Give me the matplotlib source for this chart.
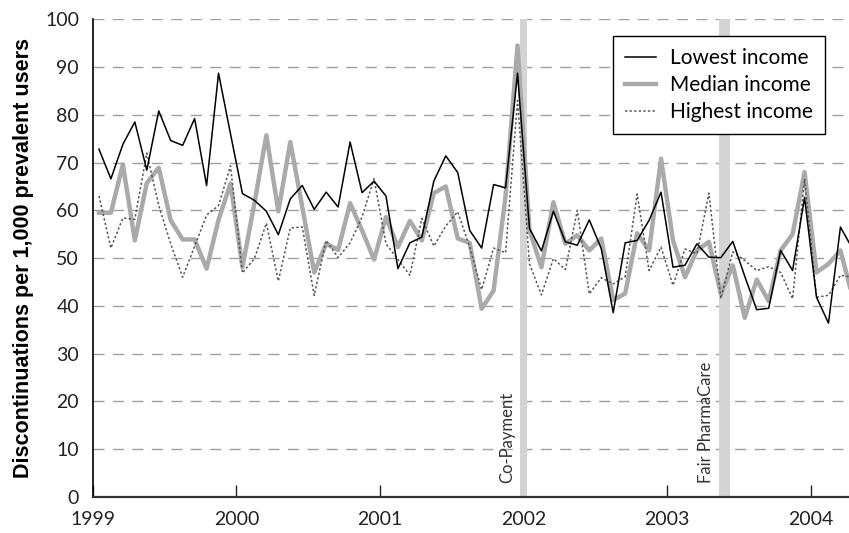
import numpy as np
import matplotlib
matplotlib.use("Agg")
import matplotlib.pyplot as plt

# Monthly discontinuation rates, Jan 1999 - Apr 2004
lowest = [72.8, 66.6, 73.8, 78.5, 68.4, 80.8, 74.6, 73.6, 79.2, 65.2, 88.7, 76.0,
          63.5, 62.1, 59.8, 54.9, 62.4, 65.2, 60.2, 63.8, 60.7, 74.3, 63.7, 66.1,
          63.0, 47.8, 53.2, 54.4, 66.1, 71.4, 67.9, 55.8, 52.1, 65.4, 64.7, 88.7,
          56.2, 51.5, 59.8, 53.4, 52.7, 58.0, 52.0, 38.6, 53.2, 53.7, 57.9, 63.8,
          48.1, 48.5, 53.0, 50.2, 50.1, 53.5, 46.2, 39.2, 39.5, 51.6, 47.4, 62.7,
          41.8, 36.4, 56.5, 52.0]
median = [59.5, 59.5, 69.6, 53.7, 65.7, 68.9, 57.9, 53.9, 53.9, 47.8, 58.0, 65.6,
          48.1, 61.5, 75.7, 59.8, 74.3, 60.7, 47.0, 53.0, 51.7, 61.5, 55.8, 49.7,
          58.6, 52.3, 57.8, 53.7, 63.6, 65.0, 54.1, 53.2, 39.4, 43.2, 63.0, 94.5,
          55.8, 48.1, 61.7, 53.0, 54.8, 51.6, 54.1, 41.2, 42.6, 55.2, 51.6, 70.8,
          53.7, 46.0, 51.6, 53.4, 42.5, 48.5, 37.5, 45.5, 41.0, 51.6, 55.0, 68.0,
          47.0, 48.8, 51.6, 42.0]
highest = [63.0, 52.1, 58.4, 58.1, 72.0, 61.0, 53.0, 46.0, 52.5, 59.0, 61.0, 69.3,
           46.9, 49.9, 57.3, 45.2, 56.3, 56.5, 42.2, 53.7, 50.1, 53.2, 58.6, 66.6,
           53.0, 49.7, 46.4, 58.3, 52.5, 56.7, 59.7, 52.3, 43.4, 52.1, 51.1, 83.0,
           48.8, 42.3, 49.9, 47.6, 60.0, 42.5, 45.9, 44.6, 46.1, 63.4, 47.4, 52.3,
           44.3, 51.9, 50.9, 63.6, 41.5, 51.3, 49.5, 47.4, 48.2, 47.0, 41.5, 66.6,
           41.8, 42.2, 46.4, 46.0]

start_year = 1999
years = [1999, 2000, 2001, 2002, 2003, 2004]
policies = ["Co-Payment", "Fair PharmaCare"]
policy_dates = [2002.0, 2003.40]
policy_widths = [0.045, 0.075]

# mid-month positions in decimal years
months = np.arange(len(lowest))
x = start_year + (months + 0.5) / 12

fig = plt.figure(figsize=(8.49, 5.33), dpi=100)
ax = fig.add_axes([0.1095, 0.0675, 0.8905, 0.8965])

for v in range(10, 101, 10):
    ax.axhline(v, color="#a0a0a0", lw=1.0, dashes=(8, 6), zorder=1)

for name, d, w in zip(policies, policy_dates, policy_widths):
    ax.axvspan(d - w / 2, d + w / 2, color="#d4d4d4", lw=0, zorder=2)
    ax.text(d - w / 2 - 0.035, 3, name, rotation=90, ha="right", va="bottom",
            fontsize=12, family="Lato", color="#333333", zorder=3)

ax.plot(x, median, color="#aaaaaa", lw=3.2, label="Median income", zorder=4)
ax.plot(x, highest, color="#555555", lw=1.1, ls=(0, (1.5, 1.5)),
        label="Highest income", zorder=5)
ax.plot(x, lowest, color="black", lw=1.1, label="Lowest income", zorder=6)

ax.set_xlim(1999, 2004.268)
ax.set_ylim(0, 100)
ax.set_xticks(years)
ax.set_xticklabels([str(y) for y in years], family="Lato", fontsize=14)
ax.set_yticks(range(0, 101, 10))
ax.set_yticklabels([str(v) for v in range(0, 101, 10)], family="Lato", fontsize=14)
ax.tick_params(axis="x", direction="in", length=9, width=1, pad=10, colors="#222222")
ax.tick_params(axis="y", direction="in", length=0, pad=10, colors="#222222")

for s in ["top", "right"]:
    ax.spines[s].set_visible(False)
ax.spines["left"].set_color("black")
ax.spines["left"].set_linewidth(1.2)
ax.spines["bottom"].set_color("#333333")
ax.spines["bottom"].set_linewidth(1.6)

ax.set_ylabel("Discontinuations per 1,000 prevalent users", family="Liberation Sans",
              fontweight="bold", fontsize=15.5, labelpad=8)

handles, labels = ax.get_legend_handles_labels()
order = [2, 0, 1]
leg = ax.legend([handles[i] for i in order], [labels[i] for i in order],
                loc="upper right", bbox_to_anchor=(0.968, 0.964), frameon=True,
                fancybox=False, edgecolor="black", framealpha=1,
                prop={"family": "Lato", "size": 15},
                handlelength=1.5, borderpad=0.55, labelspacing=0.35,
                handletextpad=0.7, borderaxespad=0)
leg.get_frame().set_linewidth(1.0)

fig.savefig("out.png", dpi=100)
